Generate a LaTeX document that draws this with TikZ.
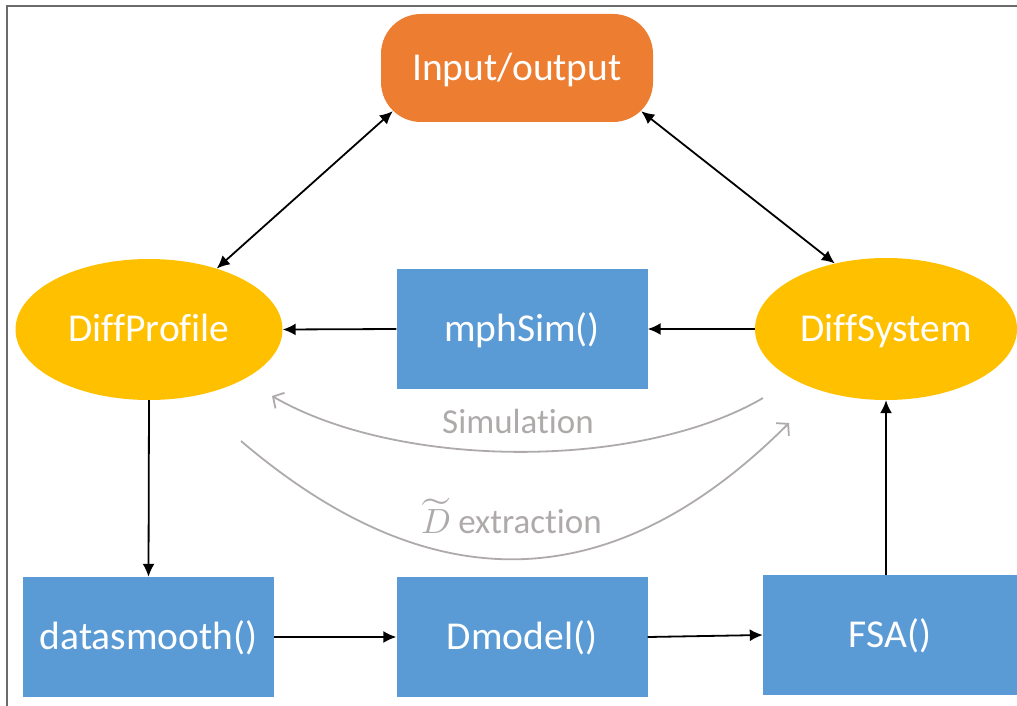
\documentclass[tikz,border=0pt]{standalone}
\usepackage{fontspec}
\usepackage{unicode-math}
\setmainfont{Carlito}[Ligatures={NoCommon}]
\setmathfont{Latin Modern Math}
\usetikzlibrary{arrows.meta,shapes.geometric}
\definecolor{ioorange}{HTML}{ED7D31}
\definecolor{ellyellow}{HTML}{FFC000}
\definecolor{boxblue}{HTML}{5B9BD5}
\definecolor{curvegray}{HTML}{AEAAAA}
\definecolor{framegray}{HTML}{6B6B6B}
\tikzset{
  bigtext/.style={text=white, font=\fontsize{39.5}{44}\selectfont, inner sep=0pt, text height=35.5pt, text depth=11pt},
  iobox/.style={bigtext, rectangle, rounded corners=40pt, fill=ioorange, minimum width=272pt, minimum height=108pt},
  ellnode/.style={bigtext, ellipse, fill=ellyellow},
  funcbox/.style={bigtext, rectangle, fill=boxblue, minimum width=251pt, minimum height=120pt},
  blackarrow/.style={line width=1.8pt, -{Latex[length=13pt,width=12pt]}},
  dblarrow/.style={line width=1.8pt, {Latex[length=13pt,width=12pt]}-{Latex[length=13pt,width=12pt]}},
  grayarrow/.style={line width=1.8pt, draw=curvegray, -{Straight Barb[length=8pt,width=18pt,line width=1.8pt]}},
  graylabel/.style={text=curvegray, font=\fontsize{35}{40}\selectfont, inner sep=0pt, anchor=base}
}
\begin{document}
\begin{tikzpicture}[x=1pt,y=-1pt]
\useasboundingbox (0,0) rectangle (1017,706);
\draw[framegray, line width=1.5pt] (7,706) -- (7,6) -- (1017,6);

\node[iobox] (io) at (517,68) {Input/output};
\node[ellnode, minimum width=267pt, minimum height=141pt] (dp) at (149,329.5) {DiffProfile};
\node[ellnode, minimum width=262pt, minimum height=142pt] (ds) at (886,329) {DiffSystem};
\node[funcbox] (ms) at (522,329) {mphSim()};
\node[funcbox] (sm) at (148.5,637) {datasmooth()};
\node[funcbox] (dm) at (522,637) {Dmodel()};
\node[funcbox, minimum width=254pt] (fsa) at (890,635) {FSA()};

\draw[dblarrow] (dp.42) -- ([shift={(12,-11)}]io.south west);
\draw[dblarrow] (ds.128) -- ([shift={(-12,-11)}]io.south east);
\draw[blackarrow] (ds.west) -- (ms.east);
\draw[blackarrow] (ms.west) -- (dp.east);
\draw[blackarrow] (dp.south) -- (sm.north);
\draw[blackarrow] (sm.east) -- (dm.west);
\draw[blackarrow] (dm.east) -- (fsa.west);
\draw[blackarrow] (ds.south |- fsa.north) -- (ds.south);

\coordinate (simstart) at (763,398);
\coordinate (simend) at (272,396);
\coordinate (exstart) at (241,441);
\coordinate (exend) at (789,423);
\draw[grayarrow] (simstart) .. controls (640,470) and (400,470) .. (simend);
\draw[grayarrow] (exstart) .. controls (424,597) and (606,606) .. (exend);
\node[graylabel] (simlabel) at (518,433) {Simulation};
\node[graylabel] (exlabel) at (511.5,533) {$\widetilde{D}$ extraction};
\end{tikzpicture}
\end{document}
